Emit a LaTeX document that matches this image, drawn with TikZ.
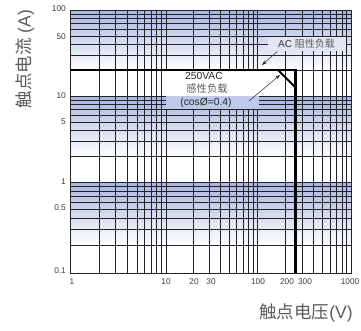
\documentclass[tikz,border=0pt]{standalone}
\usepackage{fontspec}
\setmainfont{Liberation Sans}
\newfontfamily\cjk{Noto Sans CJK SC}
\usetikzlibrary{arrows.meta}
\definecolor{bandblue}{RGB}{168, 182, 222}
\definecolor{boxblue}{RGB}{190, 202, 234}
\definecolor{boxpale}{RGB}{226, 230, 244}
\definecolor{gridline}{RGB}{34, 34, 40}
\definecolor{labelgray}{RGB}{60, 60, 60}
\definecolor{titlegray}{RGB}{90, 90, 90}

\begin{document}
\begin{tikzpicture}[x=1pt, y=-1pt,
    gridrule/.style={color=gridline, line width=0.65pt},
    loadline/.style={color=black, line width=2.1pt},
    ticklabel/.style={color=labelgray, inner sep=0pt, font=\fontsize{8.3}{10}\selectfont},
    pointer/.style={color=black!85, line width=0.5pt, -{Stealth[length=5pt, width=3.5pt]}},
    axistitle/.style={color=titlegray, inner sep=0pt, font=\fontsize{17.5}{19}\selectfont}]
        \useasboundingbox (0,0) rectangle (361,330);
        % shaded bands, one per decade (top down to 2x)
        \foreach \t/\b in {10/96, 96/182, 182/273}
            \shade[top color=bandblue, bottom color=white] (70,\t) rectangle (351,{\b-0.30103*(\b-\t)});
        % log grid
        \foreach \t/\b in {10/96, 96/182, 182/273}
            \foreach \m in {1,...,9}
                \draw[gridrule] (70,{\b-log10(\m)*(\b-\t)}) -- (351,{\b-log10(\m)*(\b-\t)});
        \foreach \l/\r in {70/166, 166/257, 257/351}
            \foreach \m in {1,...,9}
                \draw[gridrule] ({\l+log10(\m)*(\r-\l)},10) -- ({\l+log10(\m)*(\r-\l)},273);
        \draw[gridrule] (70,10) rectangle (351,273);
        % label boxes over the grid
        \fill[white]   (165.5,71) rectangle (259,96);
        \fill[boxblue] (165.5,96) rectangle (259,108.5);
        \node[fill=boxpale, inner sep=0pt, minimum width=78pt, minimum height=14.5pt,
              font=\fontsize{10}{12}\selectfont] (acload) at (306.5,44)
              {\color{black!80}AC {\cjk\color{titlegray}阻性负载}};
        % load limits
        \draw[loadline] (70,70) -- (295.5,70);
        \draw[loadline] (295.5,68.95) -- (295.5,273);
        \draw[loadline] (278,70) -- (295.5,87.5);
        \node[font=\fontsize{10.3}{12}\selectfont, color=black!85] (vac)     at (204,75.5)  {250VAC};
        \node[font=\fontsize{10.3}{12}\selectfont\cjk, color=titlegray] (indload) at (207,89) {感性负载};
        \node[font=\fontsize{10.3}{12}\selectfont, color=black!85] (cosphi)  at (206,102.5) {(cosØ=0.4)};
        \coordinate (resend)   at (262,65);
        \coordinate (indstart) at (249,101);
        \coordinate (indend)   at (280,75);
        \draw[pointer] ([xshift=10pt]acload.south west) -- (resend);
        \draw[pointer] (indstart) -- (indend);
        % tick labels
        \foreach \v/\y in {100/9, 50/37, 10/96, 5/122, 1/182, 0.5/208, 0.1/271}
            \node[ticklabel, anchor=east] (ylab\v) at (66,\y) {\v};
        \foreach \v/\x in {1/72, 10/166, 20/194, 30/211, 100/258, 200/287, 300/305, 1000/350}
            \node[ticklabel] (xlab\v) at (\x,282) {\v};
        % axis titles
        \node[axistitle, rotate=90] (ytitle) at (25,59) {{\cjk 触点电流} (A)};
        \node[axistitle] (xtitle) at (306,312.5) {{\cjk 触点电压}(V)};
\end{tikzpicture}
\end{document}
